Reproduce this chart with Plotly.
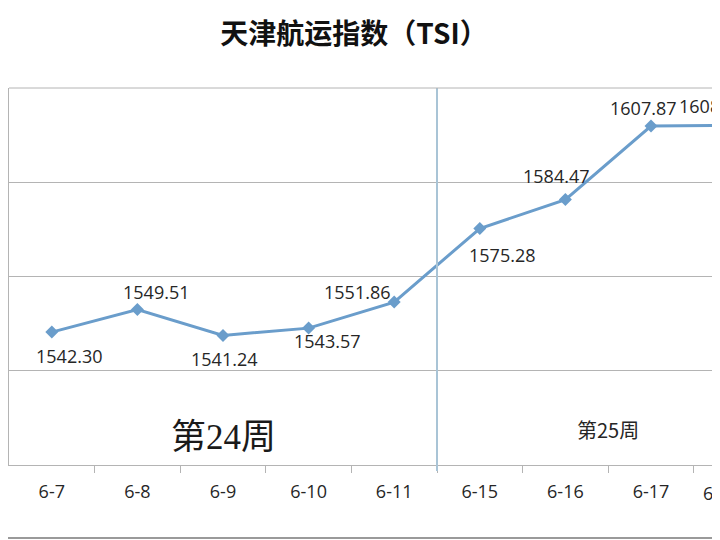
import plotly.graph_objects as go

dates = ["6-7", "6-8", "6-9", "6-10", "6-11", "6-15", "6-16", "6-17", "6-18"]
tsi = [1542.30, 1549.51, 1541.24, 1543.57, 1551.86, 1575.28, 1584.47, 1607.87, 1608.10]
week_labels = ["第24周", "第25周"]
title_text = "天津航运指数（TSI）"

# label offsets (style): (xshift, yshift) in px
label_offsets = [(17, -24), (19, 17), (1, -24), (18, -13), (-37, 10), (22, -26), (-9, 24), (-8, 18), (-25, 19)]

LINE = "#6a9dcb"
GRID = "#b4b4b4"
W, H = 712, 532          # page body has an 8px margin in the viewer
ML, MT, MB = 1, 80, 75
CAT_W = 85.6
TICK_FONT = dict(family="Open Sans, Liberation Sans", size=18, color="#262626")

fig = go.Figure()
fig.add_trace(go.Scatter(
    x=list(range(len(dates))), y=tsi, mode="lines+markers",
    line=dict(color=LINE, width=3),
    marker=dict(symbol="diamond", size=10, color=LINE),
    cliponaxis=False, hoverinfo="skip", showlegend=False,
))

x_max = -0.5 + (W - ML) / CAT_W
edge = x_max - 0.05
annotations = []
for i, (v, (dx, dy)) in enumerate(zip(tsi, label_offsets)):
    xa = i
    if i > edge:      # point lies beyond the visible range: anchor at edge
        dx += (i - edge) * CAT_W
        xa = edge
    annotations.append(dict(
        x=xa, y=v, xref="x", yref="y", text=f"{v:.2f}", showarrow=False,
        xshift=dx, yshift=dy, font=dict(family="Open Sans, Liberation Sans", size=18, color="#262626"),
    ))
# tick label of the category cut off at the right edge
for i in range(len(dates)):
    if i > x_max:
        annotations.append(dict(x=edge, y=0, xref="x", yref="paper", text=dates[i], showarrow=False,
                                xanchor="center", yanchor="middle",
                                xshift=(i - edge) * CAT_W - 15, yshift=-28, font=TICK_FONT))
annotations.append(dict(x=2, y=1508.9, xref="x", yref="y", text=week_labels[0], showarrow=False,
                        font=dict(family="Liberation Serif, Noto Sans CJK SC", size=35, color="#1a1a1a")))
annotations.append(dict(x=6.5, y=1511.3, xref="x", yref="y", text=week_labels[1], showarrow=False,
                        font=dict(family="Noto Sans CJK SC", size=20, color="#262626")))

plot_h = H - MT - MB
fig.update_layout(
    width=W, height=H,
    margin=dict(l=ML, r=0, t=MT, b=MB, pad=0),
    paper_bgcolor="white", plot_bgcolor="white",
    title=dict(text="<b>" + title_text + "</b>", x=(354 - 8) / W, xref="container", xanchor="center",
               y=1 - 26 / H, yref="container", yanchor="middle",
               font=dict(family="Noto Sans CJK SC", size=28, color="#111111")),
    annotations=annotations,
    shapes=[
        dict(type="line", xref="x", yref="paper", x0=4.5, x1=4.5, y0=-6 / plot_h, y1=1,
             line=dict(color="#a9c4d6", width=2)),
        dict(type="line", xref="paper", yref="paper", x0=-0.02, x1=1.1,
             y0=-(530 - (H - MB)) / plot_h, y1=-(530 - (H - MB)) / plot_h,
             line=dict(color="#9a9a9a", width=2)),
        dict(type="line", xref="paper", yref="paper", x0=0, x1=1, y0=1, y1=1,
             line=dict(color=GRID, width=1)),
    ],
)
fig.update_xaxes(
    type="linear",
    tickmode="array", tickvals=list(range(len(dates))), ticktext=dates,
    range=[-0.5, x_max], showgrid=False, zeroline=False,
    showline=True, linecolor=GRID, linewidth=1,
    ticks="",
    tickfont=TICK_FONT,
    ticklabelstandoff=10,
)
fig.update_xaxes(minor=dict(tickmode="array", tickvals=[i + 0.5 for i in range(len(dates))],
                            ticks="outside", ticklen=7, tickcolor=GRID, showgrid=False))
fig.update_yaxes(
    range=[1500, 1620], dtick=30, tick0=1500, showgrid=True, gridcolor=GRID, gridwidth=1,
    showline=True, linecolor=GRID, linewidth=1, showticklabels=False, zeroline=False, ticks="",
)
fig.write_html("out.html")
